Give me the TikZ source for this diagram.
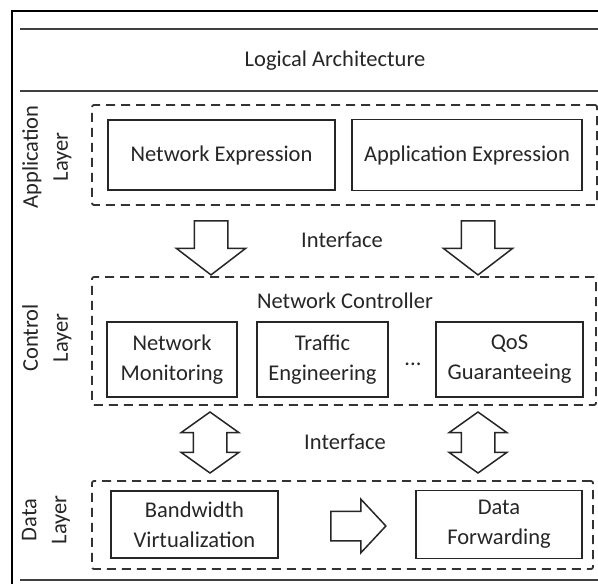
\documentclass[tikz,border=0pt]{standalone}
\usepackage{fontspec}
\setmainfont{Carlito}
\usetikzlibrary{shapes.arrows, positioning}

\begin{document}
\begin{tikzpicture}[x=1pt, y=-1pt, on grid,
        every node/.style={font=\fontsize{22.5}{30}\selectfont, text=black!85},
        box/.style={draw=black!85, line width=1.6pt, align=center, inner sep=0pt},
        layerbox/.style={draw=black!80, line width=1.8pt, dash pattern=on 9pt off 6pt, rounded corners=2pt, inner sep=0pt},
        layerlabel/.style={rotate=90, align=center, inner sep=0pt},
        blockarrow/.style={draw=black!85, line width=1.5pt, inner xsep=0pt, fill=white},
        downarrow/.style={blockarrow, single arrow, rotate=-90, inner ysep=16pt, minimum height=54pt, single arrow head extend=18pt, single arrow tip angle=105},
        twoway/.style={blockarrow, double arrow, rotate=90, inner ysep=16pt, minimum height=61pt, double arrow head extend=12pt, double arrow tip angle=109},
        rightarrow/.style={blockarrow, single arrow, inner ysep=14pt, minimum height=55pt, single arrow head extend=12pt, single arrow tip angle=94},
        frame/.style={line width=2pt, black},
        rule/.style={line width=2.2pt, black!75}]
    \useasboundingbox (0,0) rectangle (598,584);

    % outer frame and title
    \draw[frame] (12,584) -- (12,11) -- (598,11);
    \draw[rule] (20,29) -- (598,29);
    \draw[rule] (20,91) -- (598,91);
    \draw[rule] (20,580) -- (598,580);
    \node (title) at (335,61) {Logical Architecture};

    % application layer
    \node[layerbox, minimum width=505pt, minimum height=100pt] (appdash) at (344.5,155) {};
    \node[box, minimum width=227pt, minimum height=70pt] (netexp) at (221.5,155) {Network Expression};
    \node[box, minimum width=230pt, minimum height=71pt] (appexp) [right=245.5pt of netexp] {Application Expression};
    \node[layerlabel] (applabel) at (47,157) {Application\\Layer};

    \node[downarrow] (down1) at (211,241.5) {};
    \node[downarrow] (down2) at (478,241.5) {};
    \node (iface1) at (342,240) {Interface};

    % control layer
    \node[layerbox, minimum width=504pt, minimum height=128pt] (ctrldash) at (344,341) {};
    \node (ctrl) at (345,301) {Network Controller};
    \node[box, minimum width=130pt, minimum height=75pt] (netmon) at (172,359.5) {Network\\Monitoring};
    \node[box, minimum width=131pt, minimum height=75pt] (traffic) [right=150.5pt of netmon] {Traffic\\Engineering};
    \node[box, minimum width=147pt, minimum height=75pt] (qos) [right=187pt of traffic] {QoS\\Guaranteeing};
    \node (dots) at (413,364) {...};
    \node[layerlabel] (ctrllabel) at (47,338) {Control\\Layer};

    \node[twoway] (both1) at (210,442.5) {};
    \node[twoway] (both2) at (478,442.5) {};
    \node (iface2) at (345,442) {Interface};

    % data layer
    \node[layerbox, minimum width=501pt, minimum height=88pt] (datadash) at (342.5,525) {};
    \node[box, minimum width=167pt, minimum height=67pt] (bandwidth) at (194.5,524.5) {Bandwidth\\Virtualization};
    \node[box, minimum width=166pt, minimum height=68pt] (forward) [right=304.5pt of bandwidth] {Data\\Forwarding};
    \node[rightarrow] (toforward) at (351.5,526) {};
    \node[layerlabel] (datalabel) at (46,520) {Data\\Layer};
\end{tikzpicture}
\end{document}
